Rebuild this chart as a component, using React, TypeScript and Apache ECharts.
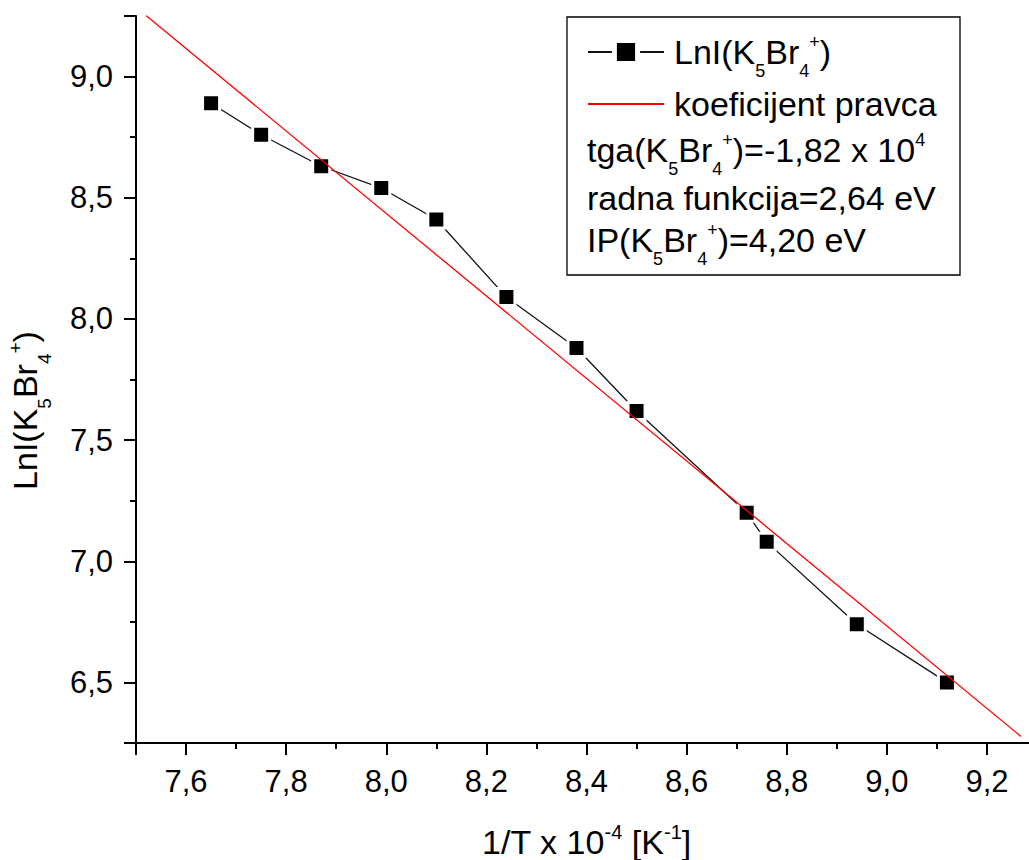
import React, { useEffect, useRef } from "react";
import * as echarts from "echarts";

// ---- data ----
const invT: number[] = [7.65, 7.75, 7.87, 7.99, 8.10, 8.24, 8.38, 8.50, 8.72, 8.76, 8.94, 9.12];
const lnI: number[] = [8.89, 8.76, 8.63, 8.54, 8.41, 8.09, 7.88, 7.62, 7.20, 7.08, 6.74, 6.50];
const fitX: number[] = [7.52, 9.268];
const fitY: number[] = [9.252, 6.277];
const xTicks: number[] = [7.6, 7.8, 8.0, 8.2, 8.4, 8.6, 8.8, 9.0, 9.2];
const yTicks: number[] = [6.5, 7.0, 7.5, 8.0, 8.5, 9.0];
const seriesNames = ["LnI(K5Br4+)", "koeficijent pravca"];

const FONT = '"Liberation Sans", Arial, Helvetica, sans-serif';

const makeRich = (F: number, S: number) => ({
  m: { fontSize: F, lineHeight: 40, fontFamily: FONT, color: "#000", verticalAlign: "middle" },
  sub: { fontSize: S, height: 2, lineHeight: 2, fontFamily: FONT, color: "#000", verticalAlign: "bottom" },
  sup: { fontSize: S, height: 20, lineHeight: 20, fontFamily: FONT, color: "#000", verticalAlign: "top" },
});

const legendLabels: Record<string, string> = {
  "LnI(K5Br4+)": "{m|LnI(K}{sub|5}{m|Br}{sub|4}{sup|+}{m|)}",
  "koeficijent pravca": "{m|koeficijent pravca}",
};
const infoRows: string[] = [
  "{m|tga(K}{sub|5}{m|Br}{sub|4}{sup|+}{m|)=-1,82 x 10}{sup|4}",
  "{m|radna funkcija=2,64 eV}",
  "{m|IP(K}{sub|5}{m|Br}{sub|4}{sup|+}{m|)=4,20 eV}",
];
const infoY: number[] = [150, 198, 240];

const inList = (list: number[], v: number) => list.some((t) => Math.abs(t - v) < 1e-6);
const fmtX = (v: number) => (inList(xTicks, v) ? v.toFixed(1).replace(".", ",") : "");
const fmtY = (v: number) => (inList(yTicks, v) ? v.toFixed(1).replace(".", ",") : "");

export default function App() {
  const ref = useRef<HTMLDivElement>(null);
  useEffect(() => {
    if (!ref.current) return;
    const chart = echarts.init(ref.current, undefined, { renderer: "svg" });
    const richL = makeRich(34, 18);
    const tickStyle = { color: "#000", width: 2 };
    chart.setOption({
      animation: false,
      backgroundColor: "#fff",
      grid: { left: 136, right: -8, top: 16, bottom: 117, containLabel: false, outerBoundsMode: "none" },
      xAxis: {
        type: "value",
        min: 7.5,
        max: 9.3,
        splitNumber: 9,
        axisLine: { show: true, onZero: false, lineStyle: { color: "#000", width: 2 } },
        splitLine: { show: false },
        axisTick: { show: true, inside: false, length: 12, lineStyle: tickStyle },
        minorTick: { show: true, splitNumber: 2, length: 6, lineStyle: tickStyle },
        axisLabel: {
          show: true, formatter: fmtX, margin: 23, showMinLabel: false, showMaxLabel: false,
          fontSize: 31, fontFamily: FONT, color: "#000",
        },
        name: "{m|1/T x 10}{sup|-4}{m| [K}{sup|-1}{m|]}",
        nameLocation: "middle",
        nameGap: 79,
        nameTextStyle: { rich: makeRich(34, 20), fontSize: 34, fontFamily: FONT, color: "#000" },
      },
      yAxis: {
        type: "value",
        min: 6.25,
        max: 9.25,
        splitNumber: 6,
        axisLine: { show: true, onZero: false, lineStyle: { color: "#000", width: 2 } },
        splitLine: { show: false },
        axisTick: { show: true, inside: false, length: 12, lineStyle: tickStyle },
        minorTick: { show: true, splitNumber: 2, length: 6, lineStyle: tickStyle },
        axisLabel: {
          show: true, formatter: fmtY, margin: 23, showMinLabel: false, showMaxLabel: false,
          fontSize: 31, fontFamily: FONT, color: "#000",
        },
        name: "{m|LnI(K}{sub|5}{m|Br}{sub|4}{sup|+}{m|)}",
        nameLocation: "middle",
        nameGap: 91,
        nameTextStyle: {
          rich: makeRich(34, 19), fontSize: 34, fontFamily: FONT, color: "#000",
          padding: [0, 62, 0, 0],
        },
      },
      legend: {
        orient: "vertical",
        left: 587,
        top: 32,
        padding: 0,
        itemWidth: 76,
        itemHeight: 29,
        itemGap: 7,
        selectedMode: false,
        itemStyle: { borderColor: "#fff", borderWidth: 5 },
        textStyle: { fontFamily: FONT, fontSize: 34, color: "#000", rich: richL, padding: [0, 0, 0, 5] },
        formatter: (name: string) => legendLabels[name] || name,
        data: [
          { name: seriesNames[0] },
          { name: seriesNames[1], itemStyle: { opacity: 0 } },
        ],
      },
      graphic: [
        {
          type: "rect",
          z: 10,
          shape: { x: 567, y: 17, width: 393, height: 258 },
          style: { fill: "none", stroke: "#000", lineWidth: 1.3 },
        },
        ...infoRows.map((t, i) => ({
          type: "text",
          z: 10,
          x: 587,
          y: infoY[i],
          style: {
            text: t, rich: richL, fontSize: 34, fontFamily: FONT, fill: "#000",
            align: "left", verticalAlign: "middle",
          },
        })),
      ],
      series: [
        {
          name: seriesNames[0],
          type: "line",
          data: invT.map((x, i) => [x, lnI[i]]),
          symbol: "rect",
          symbolSize: 17,
          itemStyle: { color: "#000", borderColor: "#fff", borderWidth: 3 },
          lineStyle: { color: "#111", width: 1.3 },
          z: 2,
        },
        {
          name: seriesNames[1],
          type: "line",
          data: fitX.map((x, i) => [x, fitY[i]]),
          symbol: "none",
          lineStyle: { color: "#ff0000", width: 1.3 },
          itemStyle: { color: "#ff0000" },
          z: 3,
        },
      ],
    });
    return () => chart.dispose();
  }, []);
  return (
    <div
      ref={ref}
      style={{ position: "fixed", left: 0, top: 0, width: 1029, height: 860, background: "#fff" }}
    />
  );
}
